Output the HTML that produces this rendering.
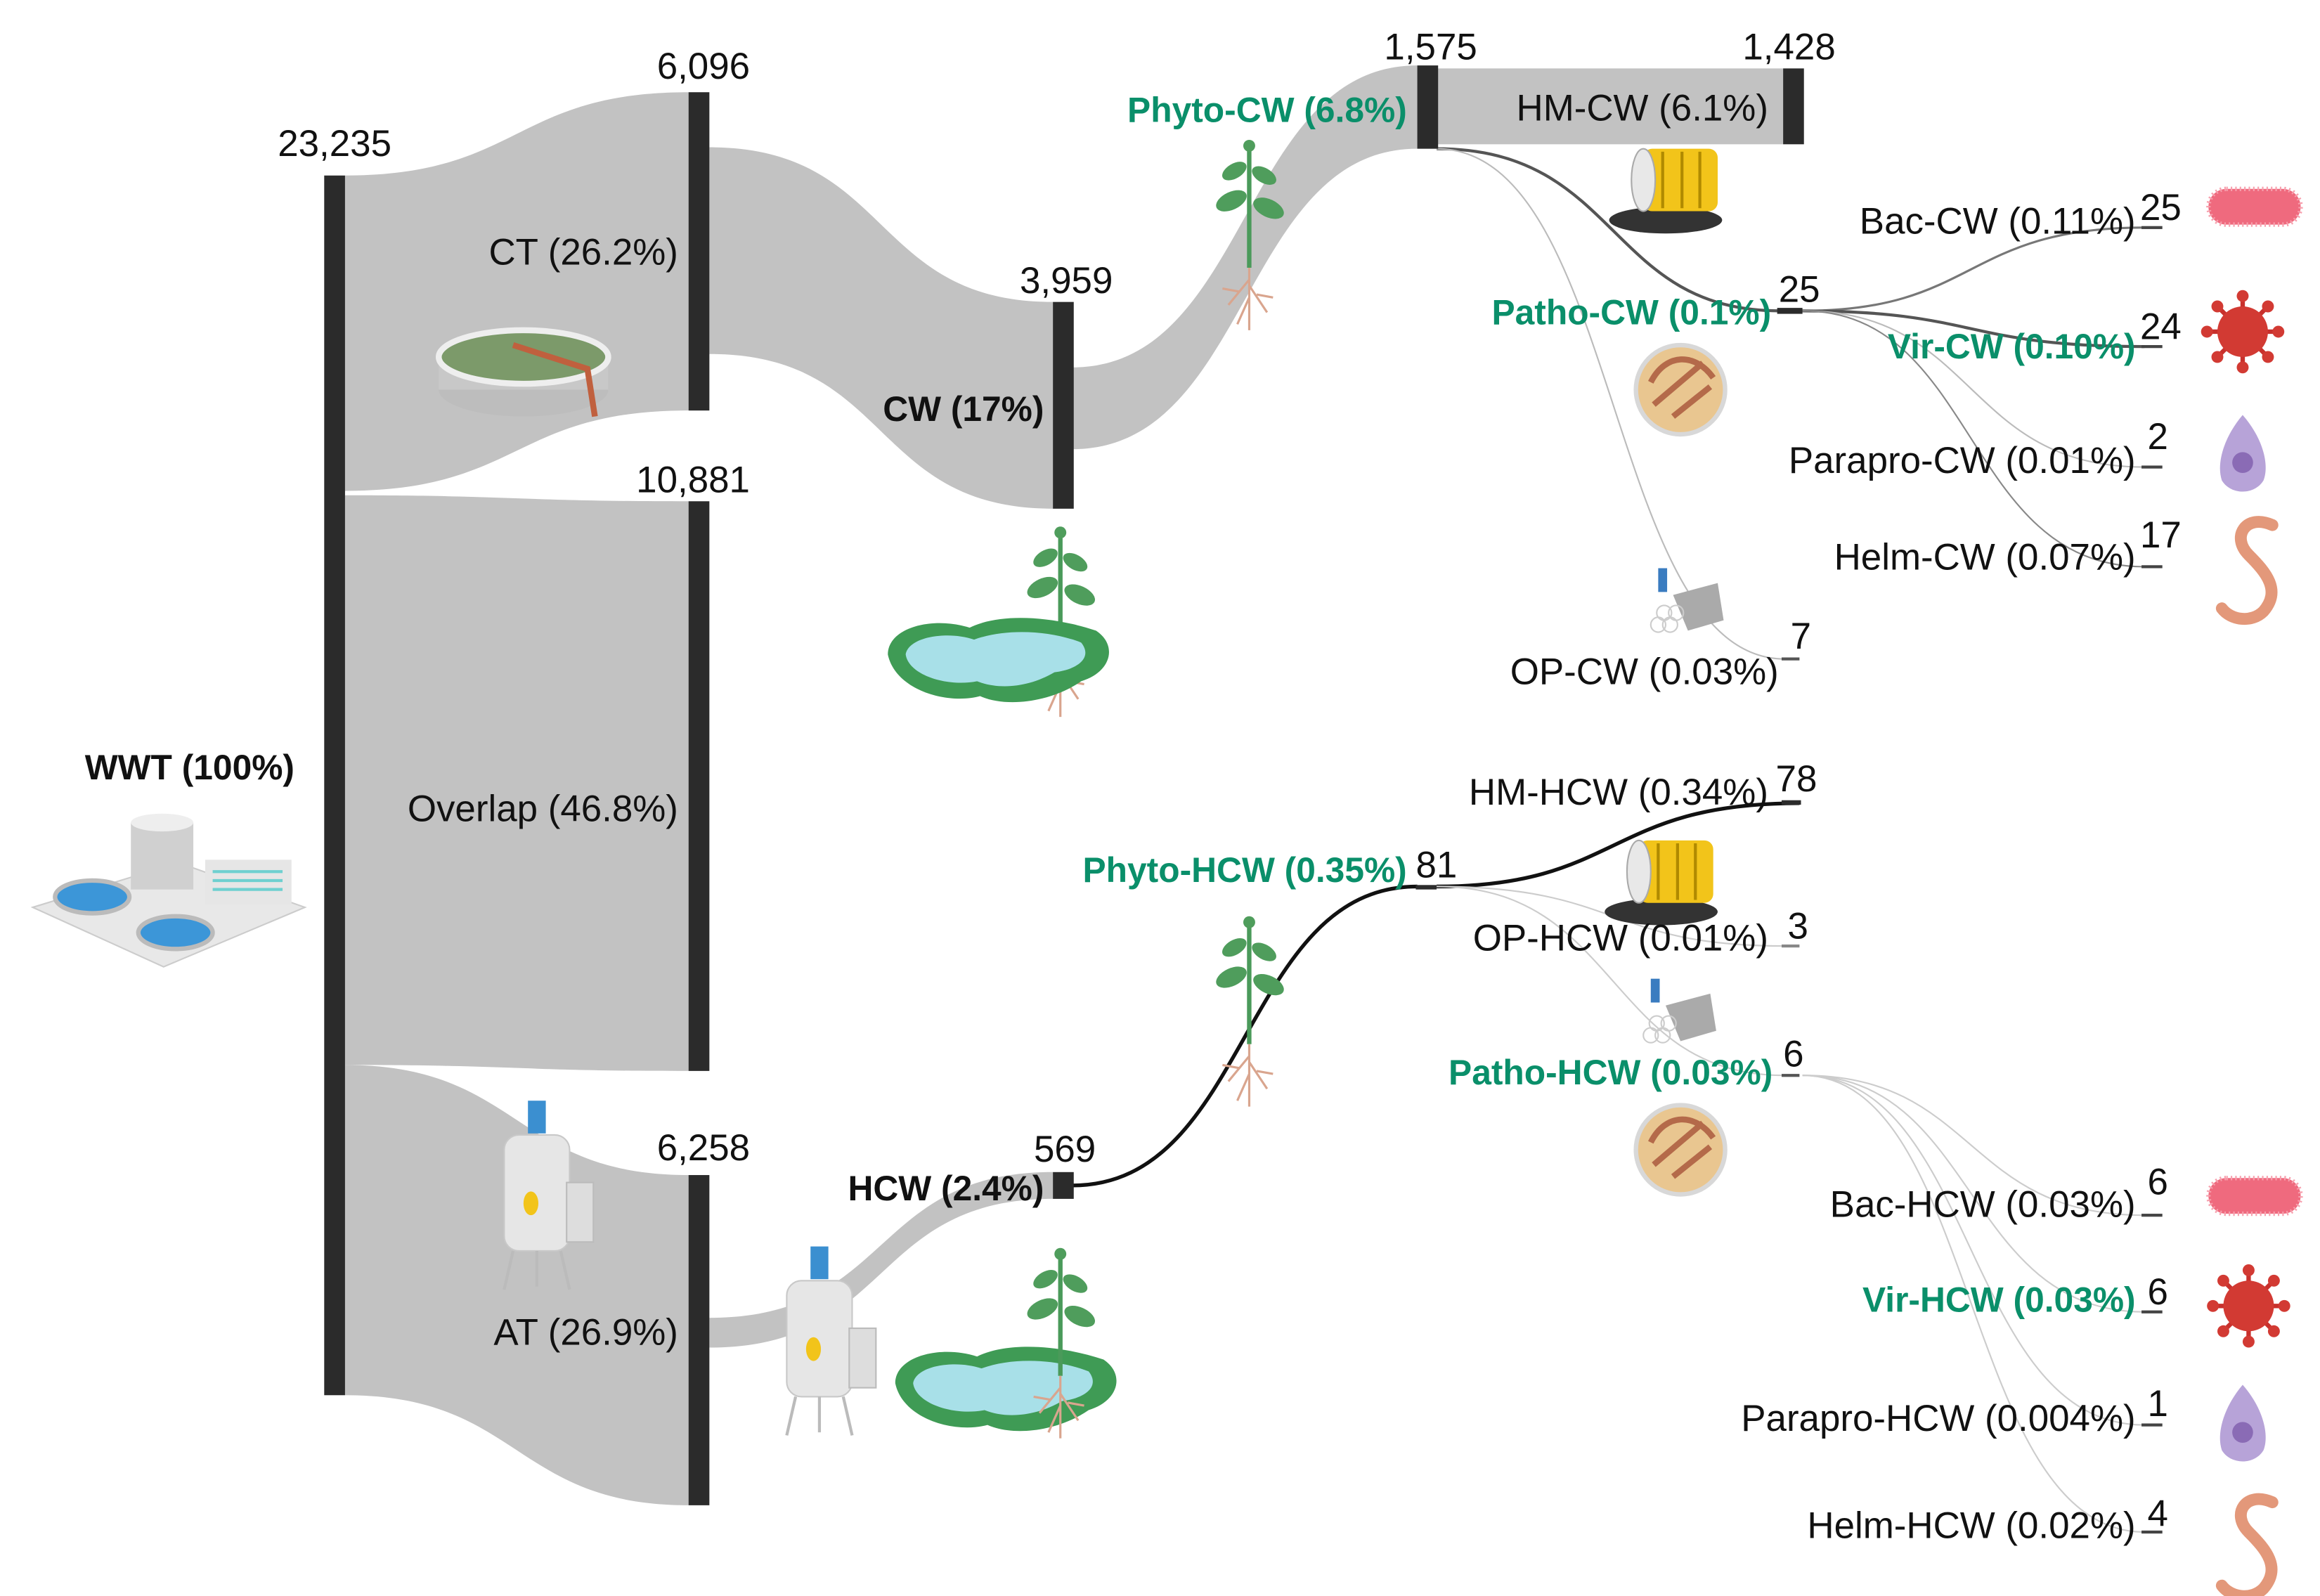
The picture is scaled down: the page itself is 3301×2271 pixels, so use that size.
<!DOCTYPE html>
<html><head><meta charset="utf-8"><style>
html,body{margin:0;padding:0;background:#fff;}
svg{display:block;}
text{font-family:"Liberation Sans",Arial,sans-serif;fill:#111;}
.n{font-size:25px;}
.l{font-size:25px;}
.b{font-weight:bold;font-size:23.5px;}
.g{fill:#0a8f6a;font-weight:bold;font-size:23.5px;}
</style></head><body>
<svg width="3301" height="2271" viewBox="0 0 1560 1073" preserveAspectRatio="none" xmlns="http://www.w3.org/2000/svg">
<defs>
<g id="plant">
 <path d="M0,0 L0,-80" stroke="#4a9a5a" stroke-width="3" fill="none"/>
 <ellipse cx="-12" cy="-45" rx="11" ry="6" fill="#4f9d5c" transform="rotate(-25 -12 -45)"/>
 <ellipse cx="13" cy="-40" rx="11" ry="6" fill="#4f9d5c" transform="rotate(25 13 -40)"/>
 <ellipse cx="-10" cy="-65" rx="9" ry="5" fill="#4f9d5c" transform="rotate(-30 -10 -65)"/>
 <ellipse cx="10" cy="-62" rx="9" ry="5" fill="#4f9d5c" transform="rotate(30 10 -62)"/>
 <circle cx="0" cy="-82" r="4" fill="#4f9d5c"/>
 <path d="M0,0 L0,42 M0,8 L-14,25 M0,12 L12,30 M0,20 L-8,38 M-7,16 L-18,14 M5,18 L16,20" stroke="#d9a58e" stroke-width="1.5" fill="none"/>
</g>
<g id="pond">
 <path d="M0,20 C0,2 30,-6 55,2 C75,-8 110,-6 140,4 C155,14 150,32 130,38 C110,52 80,56 62,48 C40,54 5,44 0,20Z" fill="#3f9b55"/>
 <path d="M12,20 C14,8 40,4 58,10 C80,2 110,4 130,12 C138,22 128,30 112,32 C95,42 75,44 60,38 C40,42 14,34 12,20Z" fill="#a8e0e8"/>
</g>
<g id="barrel">
 <ellipse cx="35" cy="48" rx="38" ry="9" fill="#333"/>
 <rect x="20" y="0" width="50" height="42" rx="6" fill="#f2c41a"/>
 <line x1="33" y1="2" x2="33" y2="40" stroke="#b08a00" stroke-width="2"/>
 <line x1="46" y1="2" x2="46" y2="40" stroke="#b08a00" stroke-width="2"/>
 <line x1="58" y1="2" x2="58" y2="40" stroke="#b08a00" stroke-width="2"/>
 <ellipse cx="20" cy="21" rx="8" ry="21" fill="#e8e8e8" stroke="#aaa"/>
</g>
<g id="petri">
 <circle cx="0" cy="0" r="30" fill="#e9c690" stroke="#d8d8d8" stroke-width="3"/>
 <path d="M-20,-5 C-10,-25 10,-25 22,-8 M-18,10 L15,-18 M-5,18 L20,-2" stroke="#b46a4a" stroke-width="4" fill="none"/>
</g>
<g id="op">
 <rect x="0" y="0" width="6" height="16" fill="#3a7cc0"/>
 <path d="M10,18 L40,10 L44,35 L20,42Z" fill="#aaa"/>
 <circle cx="4" cy="30" r="5" fill="none" stroke="#ccc"/><circle cx="12" cy="30" r="5" fill="none" stroke="#ccc"/>
 <circle cx="8" cy="38" r="5" fill="none" stroke="#ccc"/><circle cx="0" cy="38" r="5" fill="none" stroke="#ccc"/>
</g>
<g id="bac">
 <rect x="0" y="0" width="62" height="24" rx="12" fill="#ef6a7e" stroke="#f7a0ae" stroke-width="3" stroke-dasharray="1 2"/>
</g>
<g id="vir">
 <g stroke="#c8302c" stroke-width="3">
 <line x1="-24" y1="0" x2="24" y2="0"/><line x1="0" y1="-24" x2="0" y2="24"/>
 <line x1="-17" y1="-17" x2="17" y2="17"/><line x1="-17" y1="17" x2="17" y2="-17"/></g>
 <circle r="17" fill="#d23a33"/>
 <circle cx="-24" cy="0" r="4" fill="#d23a33"/><circle cx="24" cy="0" r="4" fill="#d23a33"/>
 <circle cx="0" cy="-24" r="4" fill="#d23a33"/><circle cx="0" cy="24" r="4" fill="#d23a33"/>
 <circle cx="-17" cy="-17" r="4" fill="#d23a33"/><circle cx="17" cy="17" r="4" fill="#d23a33"/>
 <circle cx="-17" cy="17" r="4" fill="#d23a33"/><circle cx="17" cy="-17" r="4" fill="#d23a33"/>
</g>
<g id="pro">
 <path d="M0,-26 C14,-10 18,8 14,18 C8,28 -8,28 -14,18 C-18,6 -12,-12 0,-26Z" fill="#b7a3d8"/>
 <circle cx="0" cy="6" r="7" fill="#8a6bb5"/>
</g>
<g id="worm">
 <path d="M20,-30 C2,-38 -8,-22 4,-10 C16,2 26,14 14,28 C6,36 -8,34 -14,26" stroke="#e3987a" stroke-width="8" fill="none" stroke-linecap="round"/>
</g>
<g id="reactor">
 <rect x="20" y="-5" width="12" height="22" fill="#3b8fd0"/>
 <rect x="4" y="18" width="44" height="78" rx="10" fill="#e6e6e6" stroke="#c8c8c8"/>
 <ellipse cx="22" cy="64" rx="5" ry="8" fill="#f2c41a"/>
 <rect x="46" y="50" width="18" height="40" fill="#ddd" stroke="#bbb"/>
 <path d="M10,96 L4,122 M42,96 L48,122 M26,96 L26,120" stroke="#bbb" stroke-width="2"/>
</g>
</defs>

<g fill="#c2c2c2">
 <path d="M232,118 C350,118 345,62 463,62 L463,276 C345,276 350,330 232,330Z"/>
 <path d="M232,333 C350,333 345,337 463,337 L463,720 C345,720 350,716 232,716Z"/>
 <path d="M232,716 C350,716 345,790 463,790 L463,1012 C345,1012 350,938 232,938Z"/>
 <path d="M477,99 C600,99 585,203 708,203 L708,342 C585,342 600,238 477,238Z"/>
 <path d="M721,247 C840,247 835,44 953,44 L953,100 C835,100 840,302 721,302Z"/>
 <rect x="966" y="46" width="233" height="51"/>
 <path d="M477,886 C600,886 585,788 708,788 L708,806 C585,806 600,906 477,906Z"/>
</g>

<g fill="none">
 <path d="M966,100 C1090,100 1080,209 1197,209" stroke="#555" stroke-width="2"/>
 <path d="M966,100 C1090,100 1080,443 1200,443" stroke="#bbb" stroke-width="1"/>
 <path d="M1212,209 C1330,209 1320,153 1442,153" stroke="#777" stroke-width="1.5"/>
 <path d="M1212,209 C1330,209 1320,233 1442,233" stroke="#555" stroke-width="2"/>
 <path d="M1212,209 C1330,209 1320,314 1442,314" stroke="#bbb" stroke-width="1"/>
 <path d="M1212,209 C1330,209 1320,381 1442,381" stroke="#888" stroke-width="1"/>
 <path d="M721,797 C840,797 835,596 953,596" stroke="#111" stroke-width="2.5"/>
 <path d="M966,596 C1090,596 1080,540 1210,540" stroke="#111" stroke-width="2.5"/>
 <path d="M966,596 C1090,596 1080,636 1200,636" stroke="#ccc" stroke-width="1"/>
 <path d="M966,596 C1090,596 1080,723 1200,723" stroke="#ccc" stroke-width="1"/>
 <path d="M1212,723 C1330,723 1320,817 1442,817" stroke="#ccc" stroke-width="1"/>
 <path d="M1212,723 C1330,723 1320,882 1442,882" stroke="#ccc" stroke-width="1"/>
 <path d="M1212,723 C1330,723 1320,958 1442,958" stroke="#ccc" stroke-width="1"/>
 <path d="M1212,723 C1330,723 1320,1030 1442,1030" stroke="#ccc" stroke-width="1"/>
</g>

<g fill="#2b2b2b">
 <rect x="218" y="118" width="14" height="820"/>
 <rect x="463" y="62" width="14" height="214"/>
 <rect x="463" y="337" width="14" height="383"/>
 <rect x="463" y="790" width="14" height="222"/>
 <rect x="708" y="203" width="14" height="139"/>
 <rect x="708" y="788" width="14" height="18"/>
 <rect x="953" y="44" width="14" height="56"/>
 <rect x="1199" y="46" width="14" height="51"/>
 <rect x="1195" y="207" width="17" height="4"/>
 <rect x="952" y="595" width="14" height="3"/>
 <rect x="1198" y="538" width="13" height="3"/>
 <rect x="1198" y="635" width="12" height="2" fill="#888"/>
 <rect x="1198" y="722" width="12" height="2" fill="#555"/>
 <rect x="1198" y="442" width="12" height="2" fill="#555"/>
 <g fill="#444">
 <rect x="1440" y="152" width="14" height="2"/><rect x="1440" y="232" width="14" height="2"/>
 <rect x="1440" y="313" width="14" height="2"/><rect x="1440" y="380" width="14" height="2"/>
 <rect x="1440" y="816" width="14" height="2"/><rect x="1440" y="881" width="14" height="2"/>
 <rect x="1440" y="957" width="14" height="2"/><rect x="1440" y="1029" width="14" height="2"/>
 </g>
</g>

<g>
 <path d="M22,610 L120,580 L205,610 L110,650Z" fill="#e8e8e8" stroke="#ccc"/>
 <rect x="88" y="553" width="42" height="45" fill="#d0d0d0"/><ellipse cx="109" cy="553" rx="21" ry="6" fill="#eee"/>
 <rect x="138" y="578" width="58" height="30" fill="#e6e6e6"/>
 <g stroke="#6fd0d0" stroke-width="2"><line x1="143" y1="586" x2="190" y2="586"/><line x1="143" y1="592" x2="190" y2="592"/><line x1="143" y1="598" x2="190" y2="598"/></g>
 <ellipse cx="62" cy="603" rx="25" ry="11" fill="#3c96d8" stroke="#bbb" stroke-width="3"/>
 <ellipse cx="118" cy="627" rx="25" ry="11" fill="#3c96d8" stroke="#bbb" stroke-width="3"/>
 <ellipse cx="352" cy="262" rx="57" ry="18" fill="#bdbdbd"/>
 <rect x="295" y="240" width="114" height="22" fill="#c8c8c8"/>
 <ellipse cx="352" cy="240" rx="57" ry="18" fill="#7c9a6a" stroke="#eee" stroke-width="4"/>
 <path d="M345,232 L395,248 L400,280" stroke="#c0603e" stroke-width="4" fill="none"/>
 <use href="#plant" x="840" y="180"/>
 <use href="#plant" x="713" y="440"/>
 <use href="#pond" x="597" y="420"/>
 <use href="#reactor" x="335" y="745"/>
 <use href="#reactor" x="525" y="843"/>
 <use href="#pond" x="602" y="910"/>
 <use href="#plant" x="713" y="925"/>
 <use href="#plant" x="840" y="702"/>
 <use href="#barrel" x="1085" y="100"/>
 <use href="#barrel" x="1082" y="565"/>
 <use href="#petri" x="1130" y="262"/>
 <use href="#petri" x="1130" y="773"/>
 <use href="#op" x="1115" y="382"/>
 <use href="#op" x="1110" y="658"/>
 <use href="#bac" x="1485" y="127"/>
 <use href="#bac" x="1485" y="792"/>
 <use href="#vir" x="1508" y="223"/>
 <use href="#vir" x="1512" y="878"/>
 <use href="#pro" x="1508" y="305"/>
 <use href="#pro" x="1508" y="957"/>
 <use href="#worm" x="1508" y="383"/>
 <use href="#worm" x="1508" y="1040"/>
</g>

<text class="n" x="225" y="105" text-anchor="middle">23,235</text>
<text class="n" x="473" y="53" text-anchor="middle">6,096</text>
<text class="n" x="466" y="331" text-anchor="middle">10,881</text>
<text class="n" x="473" y="780" text-anchor="middle">6,258</text>
<text class="n" x="717" y="197" text-anchor="middle">3,959</text>
<text class="n" x="716" y="781" text-anchor="middle">569</text>
<text class="n" x="962" y="40" text-anchor="middle">1,575</text>
<text class="n" x="1203" y="40" text-anchor="middle">1,428</text>
<text class="l" x="456" y="178" text-anchor="end">CT (26.2%)</text>
<text class="l" x="456" y="552" text-anchor="end">Overlap (46.8%)</text>
<text class="l" x="456" y="904" text-anchor="end">AT (26.9%)</text>
<text class="b" x="198" y="524" text-anchor="end">WWT (100%)</text>
<text class="b" x="702" y="283" text-anchor="end">CW (17%)</text>
<text class="b" x="702" y="807" text-anchor="end">HCW (2.4%)</text>
<text class="g" x="946" y="82" text-anchor="end">Phyto-CW (6.8%)</text>
<text class="l" x="1189" y="81" text-anchor="end">HM-CW (6.1%)</text>
<text class="g" x="1191" y="218" text-anchor="end">Patho-CW (0.1%)</text>
<text class="n" x="1196" y="203">25</text>
<text class="l" x="1436" y="157" text-anchor="end">Bac-CW (0.11%)</text><text class="n" x="1439" y="148">25</text>
<text class="g" x="1436" y="241" text-anchor="end">Vir-CW (0.10%)</text><text class="n" x="1439" y="228">24</text>
<text class="l" x="1436" y="318" text-anchor="end">Parapro-CW (0.01%)</text><text class="n" x="1444" y="302">2</text>
<text class="l" x="1436" y="383" text-anchor="end">Helm-CW (0.07%)</text><text class="n" x="1439" y="368">17</text>
<text class="l" x="1196" y="460" text-anchor="end">OP-CW (0.03%)</text><text class="n" x="1204" y="436">7</text>
<text class="l" x="1189" y="541" text-anchor="end">HM-HCW (0.34%)</text><text class="n" x="1194" y="532">78</text>
<text class="g" x="946" y="593" text-anchor="end">Phyto-HCW (0.35%)</text><text class="n" x="952" y="590">81</text>
<text class="l" x="1189" y="639" text-anchor="end">OP-HCW (0.01%)</text><text class="n" x="1202" y="631">3</text>
<text class="g" x="1192" y="729" text-anchor="end">Patho-HCW (0.03%)</text><text class="n" x="1199" y="717">6</text>
<text class="l" x="1436" y="818" text-anchor="end">Bac-HCW (0.03%)</text><text class="n" x="1444" y="803">6</text>
<text class="g" x="1436" y="882" text-anchor="end">Vir-HCW (0.03%)</text><text class="n" x="1444" y="877">6</text>
<text class="l" x="1436" y="962" text-anchor="end">Parapro-HCW (0.004%)</text><text class="n" x="1444" y="952">1</text>
<text class="l" x="1436" y="1034" text-anchor="end">Helm-HCW (0.02%)</text><text class="n" x="1444" y="1026">4</text>
</svg>
</body></html>
